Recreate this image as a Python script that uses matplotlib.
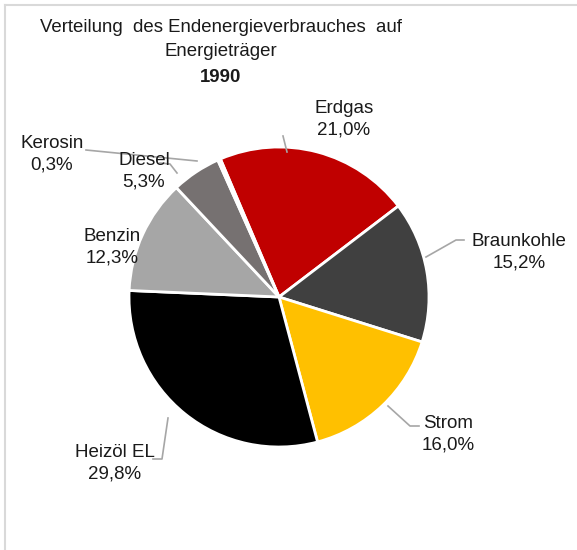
import numpy as np
import matplotlib.pyplot as plt
from matplotlib.lines import Line2D

plt.rcParams['font.family'] = ['Liberation Sans', 'DejaVu Sans']

# data
labels = ['Erdgas', 'Braunkohle', 'Strom', 'Heizöl EL', 'Benzin', 'Diesel', 'Kerosin']
values = [21.0, 15.2, 16.0, 29.8, 12.3, 5.3, 0.3]
colors = ['#C00000', '#404040', '#FFC000', '#000000', '#A6A6A6', '#767171', '#D9D9D9']

fig = plt.figure(figsize=(5.77, 5.5), dpi=100)
W, H = 577, 550

# pie axes: centre ~ (279, 297), radius ~ 150 px
cx, cy, r = 279, 297, 150
ax = fig.add_axes([(cx - r) / W, 1 - (cy + r) / H, 2 * r / W, 2 * r / H])
wedges, _ = ax.pie(values, colors=colors, startangle=113, counterclock=False,
                   radius=1.0, wedgeprops=dict(edgecolor='white', linewidth=2.0))
ax.set_xlim(-1, 1)
ax.set_ylim(-1, 1)
ax.set_aspect('equal')
ax.axis('off')

# labels: text centre (px) and leader line points (px)
label_pos = {
    'Erdgas': (344, 119),
    'Braunkohle': (519, 252),
    'Strom': (448, 434),
    'Heizöl EL': (115, 463),
    'Benzin': (112, 247),
    'Diesel': (144, 171),
    'Kerosin': (52, 154),
}
leaders = {
    'Erdgas': [(283, 136), (287, 152)],
    'Braunkohle': [(464, 240), (456, 240), (426, 257)],
    'Strom': [(419, 426), (410, 426), (388, 406)],
    'Heizöl EL': [(153, 459), (162, 459), (168, 418)],
    'Kerosin': [(86, 150), (197, 161)],
    'Diesel': [(160, 163), (170, 164), (177, 173)],
}

for lab, val in zip(labels, values):
    x, y = label_pos[lab]
    fig.text(x / W, 1 - y / H, f'{lab}\n{val:.1f}%'.replace('.', ','),
             ha='center', va='center', fontsize=13.5, linespacing=1.35, color='#1a1a1a')

for lab, pts in leaders.items():
    xs = [p[0] / W for p in pts]
    ys = [1 - p[1] / H for p in pts]
    fig.add_artist(Line2D(xs, ys, color='#A6A6A6', lw=1.2))

# title
fig.text(221 / W, 1 - 28 / H, 'Verteilung  des Endenergieverbrauches  auf',
         ha='center', va='center', fontsize=13.4, color='#1a1a1a')
fig.text(221 / W, 1 - 51 / H, 'Energieträger', ha='center', va='center',
         fontsize=13.4, color='#1a1a1a')
fig.text(221 / W, 1 - 77 / H, '1990', ha='center', va='center',
         fontsize=13.4, fontweight='bold', color='#1a1a1a')

# frame lines (top and left)
fig.add_artist(Line2D([5 / W, 1], [1 - 5 / H, 1 - 5 / H], color='#D9D9D9', lw=1.5))
fig.add_artist(Line2D([5 / W, 5 / W], [0, 1 - 5 / H], color='#D9D9D9', lw=1.5))

fig.savefig('out.png', dpi=100)
